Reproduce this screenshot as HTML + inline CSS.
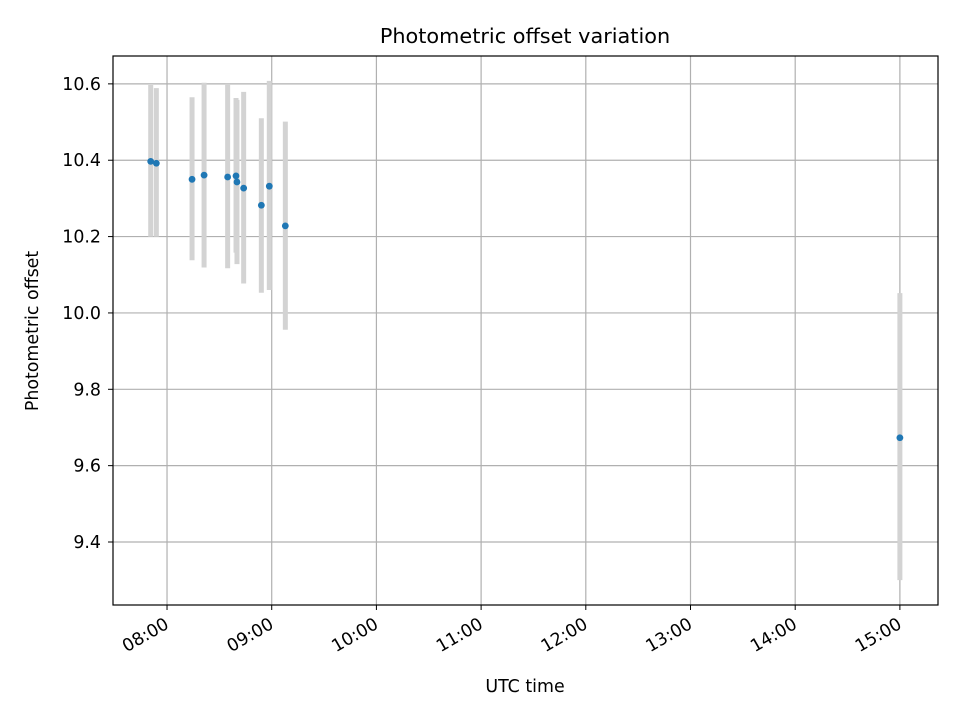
<!DOCTYPE html>
<html><head><meta charset="utf-8"><style>
body{margin:0;background:#fff}
svg{font-family:"DejaVu Sans","Liberation Sans",sans-serif}
</style></head><body>
<svg id="chart" width="960" height="720">
<rect width="960" height="720" fill="#fff"/>
<text x="525" y="43" font-size="20.8" text-anchor="middle">Photometric offset variation</text>
<g id="grid"></g><g id="bars"></g><g id="pts"></g><g id="ticks"></g>
<rect x="113" y="56" width="825" height="549" fill="none" stroke="#000" stroke-width="1.2"/>
<text x="525" y="692" font-size="17.4" text-anchor="middle">UTC time</text>
<text transform="translate(38,331) rotate(-90)" font-size="17.4" text-anchor="middle">Photometric offset</text>
</svg>
<script>
const times=[7.844,7.898,8.239,8.354,8.579,8.659,8.668,8.732,8.901,8.977,9.130,15.0];
const offsets=[10.397,10.392,10.350,10.361,10.356,10.359,10.343,10.327,10.282,10.332,10.228,9.673];
const upper=[10.597,10.589,10.565,10.603,10.600,10.563,10.558,10.579,10.510,10.608,10.501,10.052];
const lower=[10.200,10.200,10.138,10.119,10.117,10.158,10.128,10.077,10.053,10.060,9.956,9.300];
const xTicks=[8,9,10,11,12,13,14,15];
const xTickLabels=["08:00","09:00","10:00","11:00","12:00","13:00","14:00","15:00"];
const yTicks=[9.4,9.6,9.8,10.0,10.2,10.4,10.6];
const yTickLabels=["9.4","9.6","9.8","10.0","10.2","10.4","10.6"];
const X0=113,X1=938,Y0=56,Y1=605,xmin=7.484,xmax=15.364,ymin=9.235,ymax=10.673;
const sx=t=>X0+(t-xmin)/(xmax-xmin)*(X1-X0);
const sy=v=>Y1-(v-ymin)/(ymax-ymin)*(Y1-Y0);
const NS="http://www.w3.org/2000/svg";
function mk(tag,parent,attrs){const e=document.createElementNS(NS,tag);for(const k in attrs)e.setAttribute(k,attrs[k]);document.getElementById(parent).appendChild(e);return e;}
xTicks.forEach((t,i)=>{const x=sx(t);
 let g=mk('line','grid',{x1:x,x2:x,y1:Y0,y2:Y1,stroke:'#b0b0b0','stroke-width':1.2});
 
 
 let tk=mk('line','ticks',{x1:x,x2:x,y1:Y1,y2:Y1+5,stroke:'#000'});
 
 
 const ax=x-3,ay=Y1+12;
 let tx=mk('text','ticks',{x:ax,y:ay,'font-size':17.4,'text-anchor':'end','dominant-baseline':'hanging',transform:`rotate(-30 ${ax} ${ay})`});
 tx.textContent=xTickLabels[i];
 
 
});
yTicks.forEach((v,i)=>{const y=sy(v);
 let g=mk('line','grid',{x1:X0,x2:X1,y1:y,y2:y,stroke:'#b0b0b0','stroke-width':1.2});
 
 
 let tk=mk('line','ticks',{x1:X0-5,x2:X0,y1:y,y2:y,stroke:'#000'});
 
 
 let tx=mk('text','ticks',{x:X0-12,y:y+6,'font-size':17.4,'text-anchor':'end'});
 tx.textContent=yTickLabels[i];
 
 
});
times.forEach((t,i)=>{const x=sx(t);
 let b=mk('line','bars',{x1:x,x2:x,y1:sy(upper[i]),y2:sy(lower[i]),stroke:'#d3d3d3','stroke-width':5});
 
 
 let p=mk('circle','pts',{cx:x,cy:sy(offsets[i]),r:3.4,fill:'#1f77b4'});
 
 
});
</script>
</body></html>
